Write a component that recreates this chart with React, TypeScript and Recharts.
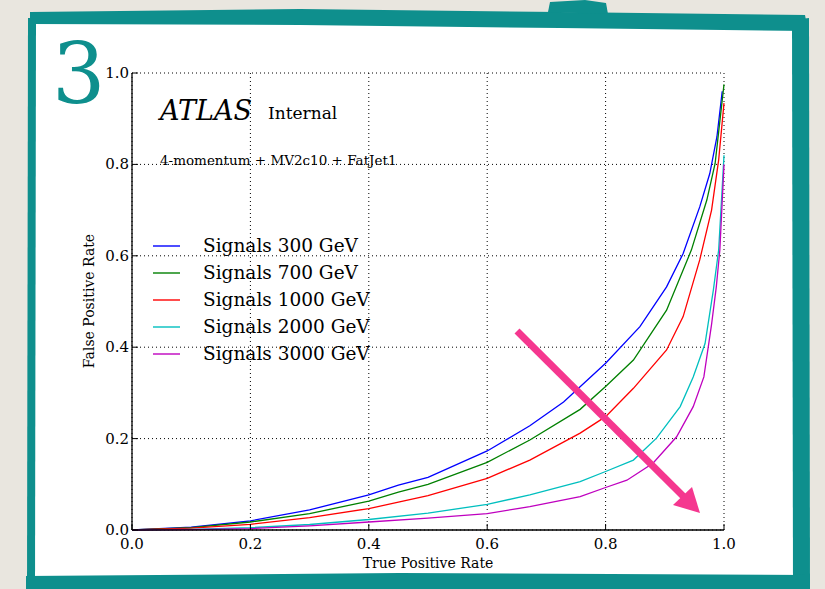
import React from "react";
import { LineChart, Line, XAxis, YAxis, CartesianGrid, Legend } from "recharts";

// True positive rate (x) and false positive rate (y)
const tpr300 = [0, 0.1, 0.2, 0.3, 0.4, 0.45, 0.5, 0.6, 0.672, 0.729, 0.8, 0.858, 0.903, 0.931, 0.959, 0.976, 0.988, 0.997];
const fpr300 = [0, 0.006, 0.02, 0.044, 0.077, 0.098, 0.115, 0.173, 0.228, 0.28, 0.365, 0.445, 0.532, 0.605, 0.707, 0.78, 0.86, 0.96];

const tpr700 = [0, 0.1, 0.2, 0.3, 0.4, 0.45, 0.5, 0.6, 0.672, 0.757, 0.8, 0.847, 0.903, 0.945, 0.971, 0.985, 1.0];
const fpr700 = [0, 0.005, 0.0175, 0.036, 0.063, 0.083, 0.1, 0.148, 0.197, 0.264, 0.314, 0.372, 0.481, 0.613, 0.722, 0.802, 0.975];

const tpr1000 = [0, 0.1, 0.2, 0.3, 0.4, 0.45, 0.5, 0.6, 0.672, 0.757, 0.8, 0.847, 0.903, 0.931, 0.959, 0.979, 0.991, 1.0];
const fpr1000 = [0, 0.004, 0.0125, 0.027, 0.047, 0.061, 0.075, 0.113, 0.153, 0.212, 0.248, 0.31, 0.394, 0.467, 0.591, 0.7, 0.81, 0.934];

const tpr2000 = [0, 0.1, 0.2, 0.3, 0.4, 0.5, 0.6, 0.672, 0.757, 0.8, 0.847, 0.886, 0.926, 0.948, 0.968, 0.982, 0.991, 0.997, 1.0];
const fpr2000 = [0, 0.0015, 0.005, 0.012, 0.023, 0.037, 0.056, 0.077, 0.106, 0.128, 0.153, 0.201, 0.27, 0.335, 0.408, 0.525, 0.613, 0.75, 0.82];

const tpr3000 = [0, 0.1, 0.2, 0.3, 0.4, 0.5, 0.6, 0.672, 0.757, 0.8, 0.836, 0.88, 0.92, 0.948, 0.966, 0.979, 0.987, 0.993, 1.0];
const fpr3000 = [0, 0.001, 0.003, 0.009, 0.0175, 0.026, 0.036, 0.051, 0.073, 0.093, 0.109, 0.146, 0.204, 0.27, 0.335, 0.45, 0.532, 0.613, 0.8];

const seriesNames = ["Signals 300 GeV", "Signals 700 GeV", "Signals 1000 GeV", "Signals 2000 GeV", "Signals 3000 GeV"];
const seriesColors = ["#0000ff", "#008000", "#ff0000", "#00bfbf", "#bf00bf"];
const axisTicks = [0, 0.2, 0.4, 0.6, 0.8, 1.0];

const toPoints = (xs: number[], ys: number[]) => xs.map((x, i) => ({ x, y: ys[i] }));
const series = [
  toPoints(tpr300, fpr300),
  toPoints(tpr700, fpr700),
  toPoints(tpr1000, fpr1000),
  toPoints(tpr2000, fpr2000),
  toPoints(tpr3000, fpr3000),
];

const FONT = "'DejaVu Serif', serif";
const TEAL = "#0e8f8d";
const PINK = "#f5378f";

const BottomTick = ({ x, y, payload }: any) => (
  <g>
    <line x1={x} x2={x} y1={y} y2={y - 6} stroke="#000" strokeWidth={1} />
    <text x={x} y={y + 19} textAnchor="middle" fontFamily={FONT} fontSize={15} fill="#000">
      {Number(payload.value).toFixed(1)}
    </text>
  </g>
);
const TopTick = ({ x, y }: any) => <line x1={x} x2={x} y1={y} y2={y + 6} stroke="#000" strokeWidth={1} />;
const LeftTick = ({ x, y, payload }: any) => (
  <g>
    <line x1={x} x2={x + 6} y1={y} y2={y} stroke="#000" strokeWidth={1} />
    <text x={x - 3} y={y + 5} textAnchor="end" fontFamily={FONT} fontSize={15} fill="#000">
      {Number(payload.value).toFixed(1)}
    </text>
  </g>
);
const RightTick = ({ x, y }: any) => <line x1={x} x2={x - 6} y1={y} y2={y} stroke="#000" strokeWidth={1} />;

// legend keeps the plotting order (recharts would sort it by name)
const renderLegend = () => (
  <div style={{ fontFamily: FONT, fontSize: 18.5, color: "#000" }}>
    {seriesNames.map((name, i) => (
      <div key={name} style={{ display: "flex", alignItems: "center", height: 27 }}>
        <svg width={27} height={4} style={{ marginRight: 23 }}>
          <line x1={0} x2={27} y1={2} y2={2} stroke={seriesColors[i]} strokeWidth={1.4} />
        </svg>
        <span style={{ whiteSpace: "nowrap" }}>{name}</span>
      </div>
    ))}
  </div>
);

const axisLine = { stroke: "#000", strokeWidth: 1.3 };

export default function App() {
  return (
    <div style={{ position: "fixed", left: 0, top: 0, width: 825, height: 589, background: "#e9e6df", overflow: "hidden" }}>
      {/* teal brushed frame */}
      <svg width={825} height={589} style={{ position: "absolute", left: 0, top: 0 }}>
        <rect x={30} y={16} width={772} height={566} fill="#fff" />
        <polygon points="30,12 300,9 560,12 805,15 808,31 560,28 300,25 30,24" fill={TEAL} />
        <polygon points="548,12 550,2 585,0 606,3 608,14" fill={TEAL} />
        <polygon points="28,18 36,18 35,589 27,589" fill={TEAL} />
        <polygon points="792,20 809,18 810,589 793,589" fill={TEAL} />
        <polygon points="26,576 400,573 810,575 810,589 26,589" fill={TEAL} />
      </svg>
      <div style={{ position: "absolute", left: 0, top: 0 }}>
        <LineChart width={825} height={589} margin={{ top: 73, right: 101, bottom: 29, left: 92 }}>
          <CartesianGrid stroke="#000" strokeDasharray="1 3" strokeWidth={1} />
          <XAxis
            dataKey="x"
            type="number"
            domain={[0, 1]}
            ticks={axisTicks}
            height={30}
            axisLine={axisLine}
            tickLine={false}
            tickSize={0}
            tickMargin={0}
            tick={BottomTick}
            allowDuplicatedCategory={false}
          />
          <XAxis
            xAxisId="top"
            orientation="top"
            dataKey="x"
            type="number"
            domain={[0, 1]}
            ticks={axisTicks}
            height={0}
            axisLine={axisLine}
            tickLine={false}
            tickSize={0}
            tickMargin={0}
            tick={TopTick}
          />
          <YAxis
            type="number"
            domain={[0, 1]}
            ticks={axisTicks}
            width={40}
            axisLine={axisLine}
            tickLine={false}
            tickSize={0}
            tickMargin={0}
            tick={LeftTick}
          />
          <YAxis
            yAxisId="right"
            orientation="right"
            type="number"
            domain={[0, 1]}
            ticks={axisTicks}
            width={0}
            axisLine={axisLine}
            tickLine={false}
            tickSize={0}
            tickMargin={0}
            tick={RightTick}
          />
          <Legend
            layout="vertical"
            align="center"
            verticalAlign="middle"
            content={renderLegend}
            wrapperStyle={{ left: 153, top: 232, width: 260 }}
          />
          {series.map((data, i) => (
            <Line
              key={seriesNames[i]}
              data={data}
              dataKey="y"
              name={seriesNames[i]}
              type="linear"
              stroke={seriesColors[i]}
              strokeWidth={1.3}
              dot={false}
              activeDot={false}
              isAnimationActive={false}
            />
          ))}
        </LineChart>
      </div>
      {/* annotations */}
      <svg width={825} height={589} style={{ position: "absolute", left: 0, top: 0, pointerEvents: "none" }}>
        <text x={52} y={103} fontFamily={FONT} fontSize={84} fill={TEAL}>3</text>
        <text x={160} y={120} fontFamily={FONT} fontStyle="italic" fontSize={27} fill="#000">ATLAS</text>
        <text x={268} y={119} fontFamily={FONT} fontSize={17} fill="#000">Internal</text>
        <text x={160} y={165} fontFamily={FONT} fontSize={13.5} fill="#000">4-momentum + MV2c10 + FatJet1</text>
        <text x={428} y={568} textAnchor="middle" fontFamily={FONT} fontSize={14} fill="#000">True Positive Rate</text>
        <text x={94} y={301} textAnchor="middle" fontFamily={FONT} fontSize={14} fill="#000" transform="rotate(-90 94 301)">
          False Positive Rate
        </text>
        <line x1={517} y1={331} x2={684} y2={497} stroke={PINK} strokeWidth={7} />
        <polygon points="673,505 692,487 700,513" fill={PINK} />
      </svg>
    </div>
  );
}
